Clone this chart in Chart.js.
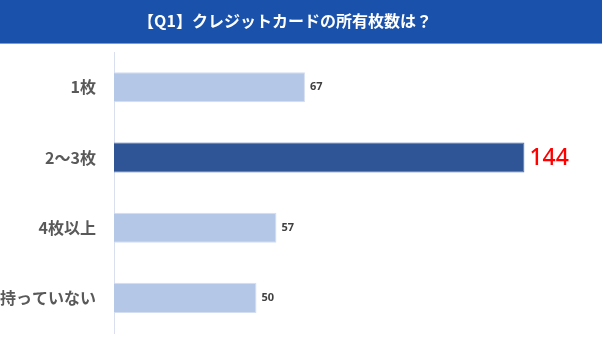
<!DOCTYPE html>
<html><head><meta charset="utf-8">
<script src="https://cdn.jsdelivr.net/npm/chart.js@4"></script>
<style>html,body{margin:0;padding:0;background:#fff;overflow:hidden}canvas{display:block}</style>
</head><body><canvas id="c" width="602" height="340"></canvas>
<script>
const titleText = '【Q1】クレジットカードの所有枚数は？';
const categories = ['1枚', '2〜3枚', '4枚以上', '持っていない'];
const counts = [67, 144, 57, 50];
const highlightIndex = 1;

const banner = {
  id: 'banner',
  beforeDraw(chart) {
    const ctx = chart.ctx;
    ctx.save();
    ctx.fillStyle = '#1A52AB';
    ctx.fillRect(0, 0, chart.width, 43);
    ctx.fillStyle = '#7E9CD0';
    ctx.fillRect(0, 43, chart.width, 1);
    ctx.restore();
  }
};

const valueLabels = {
  id: 'valueLabels',
  afterDatasetsDraw(chart) {
    const ctx = chart.ctx;
    const meta = chart.getDatasetMeta(0);
    ctx.save();
    ctx.textBaseline = 'middle';
    ctx.textAlign = 'left';
    meta.data.forEach((bar, i) => {
      const v = chart.data.datasets[0].data[i];
      if (i === highlightIndex) {
        ctx.font = '500 23px "Noto Sans", sans-serif';
        ctx.fillStyle = '#FF0000';
        ctx.fillText(String(v), bar.x + 5, bar.y + 1);
      } else {
        ctx.font = 'bold 11px "Noto Sans", sans-serif';
        ctx.fillStyle = '#404040';
        ctx.fillText(String(v), bar.x + 5, bar.y);
      }
    });
    ctx.restore();
  }
};

new Chart(document.getElementById('c'), {
  type: 'bar',
  data: {
    labels: categories,
    datasets: [{
      data: counts,
      backgroundColor: counts.map((_, i) => i === highlightIndex ? '#2F5597' : '#B4C7E7'),
      borderColor: counts.map((_, i) => i === highlightIndex ? '#4E72AE' : '#D3DEF1'),
      borderWidth: 1,
      barPercentage: 0.8,
      categoryPercentage: 0.5357
    }]
  },
  options: {
    indexAxis: 'y',
    responsive: false,
    maintainAspectRatio: false,
    devicePixelRatio: 1,
    animation: false,
    layout: { padding: { left: 0, right: 32, top: 0, bottom: 7 } },
    plugins: {
      legend: { display: false },
      tooltip: { enabled: false },
      title: {
        display: true,
        text: titleText,
        color: '#FFFFFF',
        font: { family: '"Noto Sans CJK JP"', size: 16, weight: 'bold' },
        padding: { top: 11, bottom: 22 }
      }
    },
    scales: {
      x: { display: false, min: 0, max: 160 },
      y: {
        afterFit(scale) { scale.width = 114; scale.paddingTop = 0; scale.paddingBottom = 0; },
        grid: { display: false, drawTicks: false },
        border: { display: true, color: '#D9DFEE', width: 1 },
        ticks: {
          padding: 18,
          color: '#595959',
          font: { family: '"Noto Sans CJK JP"', size: 16, weight: 'bold' }
        }
      }
    }
  },
  plugins: [banner, valueLabels]
});
</script>
</body></html>
